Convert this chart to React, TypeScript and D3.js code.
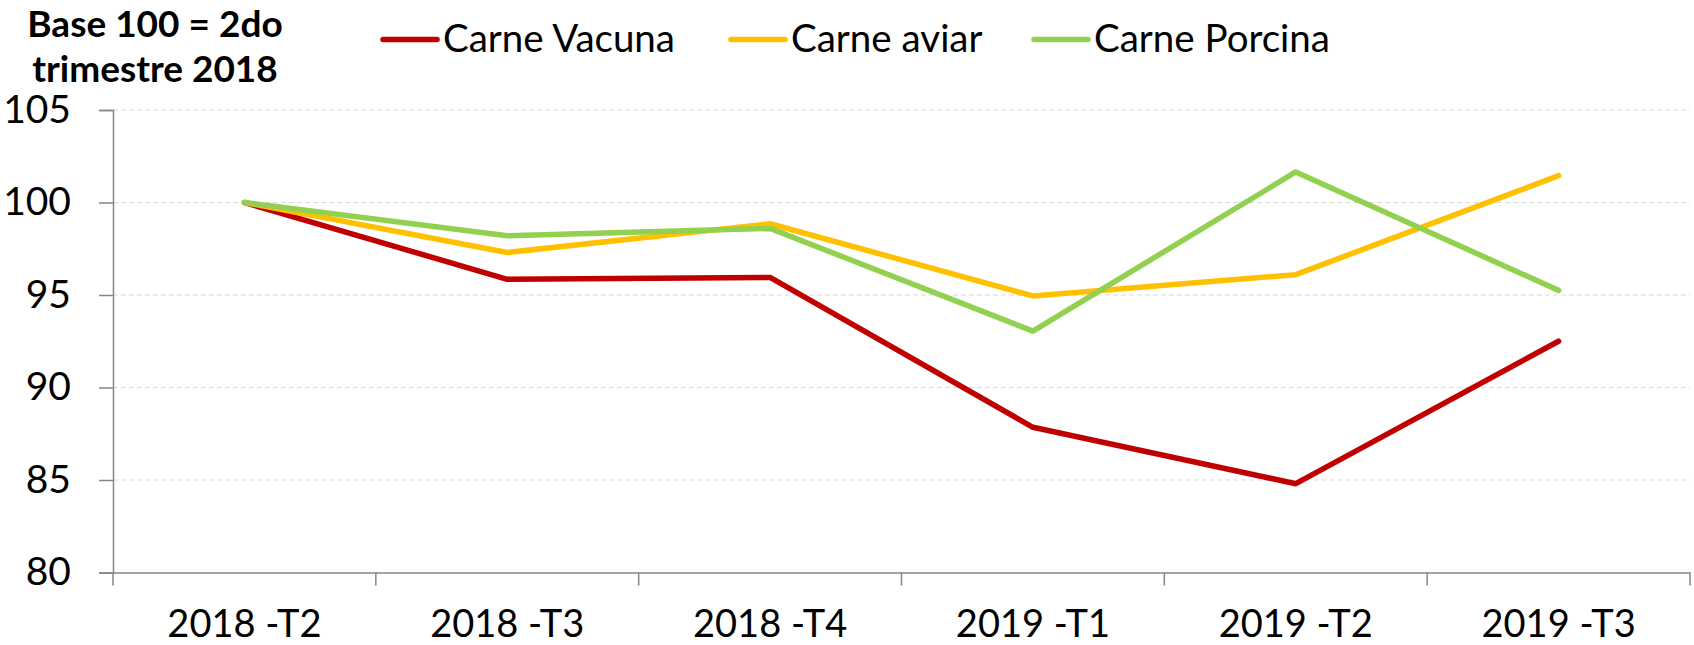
import * as React from 'react'
import * as d3 from 'd3'

const periods = ['2018 -T2', '2018 -T3', '2018 -T4', '2019 -T1', '2019 -T2', '2019 -T3'];
const seriesNames = ['Carne Vacuna', 'Carne aviar', 'Carne Porcina'];
const carneVacuna = [100, 95.85, 95.95, 87.85, 84.8, 92.5];
const carneAviar = [100, 97.3, 98.85, 94.95, 96.1, 101.45];
const carnePorcina = [100, 98.2, 98.6, 93.05, 101.65, 95.25];
const yTicks = [80, 85, 90, 95, 100, 105];
const titleLines = ['Base 100 = 2do', 'trimestre 2018'];

const colors = ['#C00000', '#FFC000', '#92D050'];
const legendX = [383, 731, 1034];

const W = 1694;
const H = 645;
const FONT = "Lato, 'Open Sans', 'Liberation Sans', sans-serif";

const App: React.FC = () => {
  const ref = React.useRef<SVGSVGElement>(null);

  React.useEffect(() => {
    const svg = d3.select(ref.current);
    svg.selectAll('*').remove();

    const x = d3.scaleBand<string>()
      .domain(periods)
      .range([113, 1690]);

    const y = d3.scaleLinear()
      .domain([80, 105])
      .range([572.5, 110]);

    // gridlines
    svg.append('g')
      .selectAll('line')
      .data(yTicks.filter(t => t > 80))
      .enter()
      .append('line')
      .attr('x1', 113)
      .attr('x2', 1690)
      .attr('y1', d => y(d))
      .attr('y2', d => y(d))
      .attr('stroke', '#d9d9d9')
      .attr('stroke-width', 1.2)
      .attr('stroke-dasharray', '5,3');

    // y axis
    const yAxis = svg.append('g')
      .attr('transform', 'translate(113,0)')
      .call(d3.axisLeft(y).tickValues(yTicks).tickSize(14).tickPadding(28).tickFormat(d3.format('d')));
    yAxis.select('.domain').attr('stroke', '#868686').attr('stroke-width', 1.5);
    yAxis.selectAll('.tick line').attr('stroke', '#868686').attr('stroke-width', 1.5);
    yAxis.selectAll('.tick text')
      .attr('fill', '#000')
      .style('font-family', FONT)
      .style('font-size', '39px');

    // x axis
    const xAxis = svg.append('g')
      .attr('transform', `translate(0,${y(80)})`)
      .call(d3.axisBottom(x).tickSize(0).tickPadding(0));
    xAxis.select('.domain').attr('stroke', '#868686').attr('stroke-width', 1.5);
    xAxis.selectAll('.tick text')
      .attr('fill', '#000')
      .attr('y', 64)
      .attr('dy', 0)
      .style('font-family', FONT)
      .style('font-size', '38px');

    // category boundary ticks
    const bounds = periods.map(p => x(p) as number).concat([x.range()[1]]);
    xAxis.selectAll('.btick')
      .data(bounds)
      .enter()
      .append('line')
      .attr('class', 'btick')
      .attr('x1', d => d)
      .attr('x2', d => d)
      .attr('y1', 0)
      .attr('y2', 13)
      .attr('stroke', '#868686')
      .attr('stroke-width', 1.5);

    // lines
    const allSeries = [carneVacuna, carneAviar, carnePorcina];
    const line = d3.line<number>()
      .x((_, i) => (x(periods[i]) as number) + x.bandwidth() / 2)
      .y(d => y(d));

    svg.append('g')
      .selectAll('path')
      .data(allSeries)
      .enter()
      .append('path')
      .attr('d', d => line(d))
      .attr('fill', 'none')
      .attr('stroke', (_, i) => colors[i])
      .attr('stroke-width', 5.5)
      .attr('stroke-linejoin', 'round')
      .attr('stroke-linecap', 'round');

    // legend
    const legend = svg.append('g')
      .selectAll('g')
      .data(seriesNames)
      .enter()
      .append('g')
      .attr('transform', (_, i) => `translate(${legendX[i]},0)`);

    legend.append('line')
      .attr('x1', 0)
      .attr('x2', 54)
      .attr('y1', 39.5)
      .attr('y2', 39.5)
      .attr('stroke', (_, i) => colors[i])
      .attr('stroke-width', 5.5)
      .attr('stroke-linecap', 'round');

    legend.append('text')
      .attr('x', 60)
      .attr('y', 52)
      .style('font-family', FONT)
      .style('font-size', '38.5px')
      .text(d => d);

    // title
    svg.append('g')
      .selectAll('text')
      .data(titleLines)
      .enter()
      .append('text')
      .attr('x', 155)
      .attr('y', (_, i) => 37 + i * 45)
      .attr('text-anchor', 'middle')
      .style('font-family', FONT)
      .style('font-weight', 'bold')
      .style('font-size', '37px')
      .text(d => d);
  }, []);

  return (
    <svg
      ref={ref}
      width={W}
      height={H}
      style={{ position: 'absolute', left: 0, top: 0, background: '#fff' }}
    />
  );
};

export default App;
